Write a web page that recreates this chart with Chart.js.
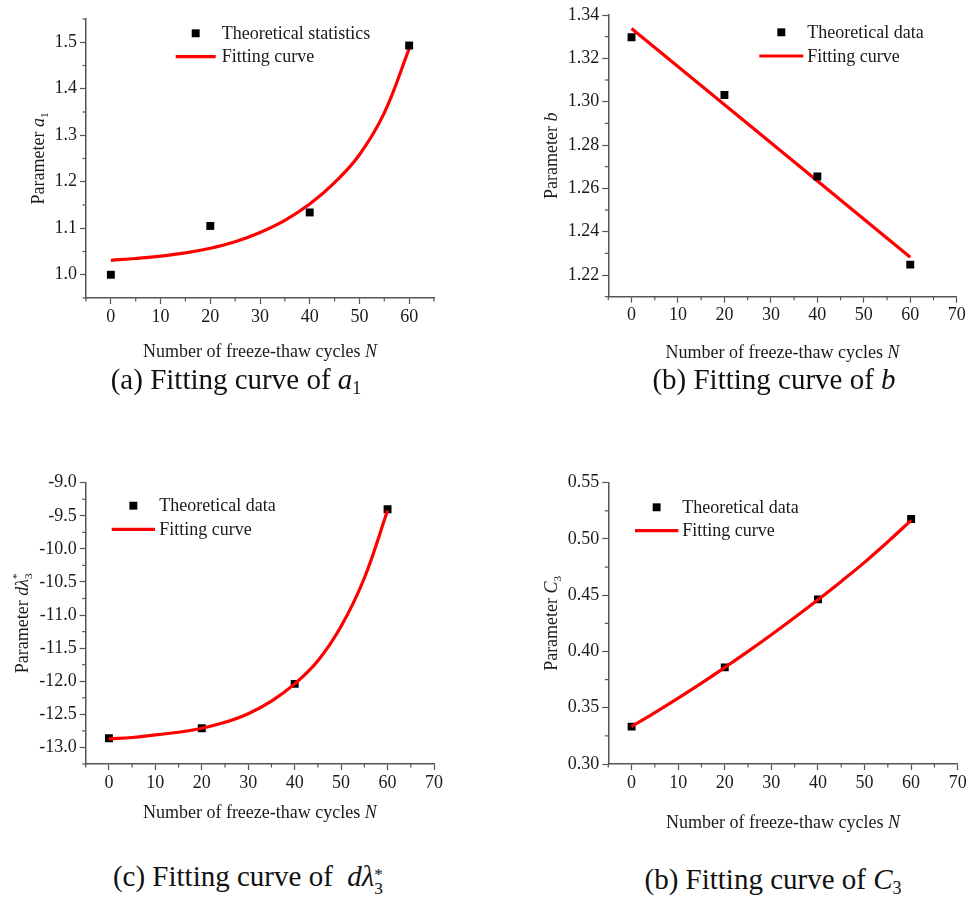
<!DOCTYPE html>
<html>
<head>
<meta charset="utf-8">
<title>Fitting curves against freeze-thaw cycles</title>
<script src="https://cdn.jsdelivr.net/npm/chart.js"></script>
<style>
  body { margin: 0; background: #fff; width: 978px; height: 897px; position: relative; overflow: hidden;
         font-family: "Liberation Serif", "Times New Roman", serif; }
  canvas { position: absolute; }
  .cap { position: absolute; font-size: 29px; color: #111; white-space: nowrap; transform: translate(-50%, -50%); line-height: 1; }
  .cap sub { font-size: 0.62em; vertical-align: -0.28em; line-height: 0; }
  .stack { display: inline-block; font-size: 0.6em; line-height: 0.8; vertical-align: -0.45em; }
  .stack span { display: block; }
</style>
</head>
<body>
<canvas id="chartA" width="489" height="372" style="left:0;top:0"></canvas>
<canvas id="chartB" width="489" height="372" style="left:489px;top:0"></canvas>
<canvas id="chartC" width="489" height="380" style="left:0;top:460px"></canvas>
<canvas id="chartD" width="489" height="380" style="left:489px;top:460px"></canvas>

<div class="cap" style="left:236px;top:379px">(a) Fitting curve of <i>a</i><sub>1</sub></div>
<div class="cap" style="left:774px;top:379px">(b) Fitting curve of <i>b</i></div>
<div class="cap" style="left:248px;top:879px">(c) Fitting curve of &nbsp;<i>dλ</i><span class="stack"><span>*</span><span>3</span></span></div>
<div class="cap" style="left:773px;top:879px">(b) Fitting curve of <i>C</i><sub>3</sub></div>

<script>
// freeze-thaw cycles of the theoretical values
const cycles = [0, 20, 40, 60];
const fitCycles = [0, 5, 10, 15, 20, 25, 30, 35, 40, 45, 50, 55, 60];

// (a) parameter a1
const a1Theory = [1.000, 1.105, 1.134, 1.493];
const a1Fit = [1.031, 1.035, 1.040, 1.047, 1.057, 1.071, 1.091, 1.117, 1.152, 1.198, 1.258, 1.348, 1.486];

// (b) parameter b, fitted by a straight line
const bTheory = [1.3297, 1.3031, 1.2655, 1.2248];
const bFitCycles = [0, 60];
const bFit = [1.3338, 1.2282];

// (c) parameter d lambda3*
const dlTheory = [-12.86, -12.71, -12.04, -9.40];
const dlFit = [-12.87, -12.85, -12.81, -12.77, -12.71, -12.62, -12.49, -12.30, -12.04, -11.69, -11.17, -10.44, -9.42];

// (d) parameter C3
const c3Theory = [0.3332, 0.3859, 0.4463, 0.5177];
const c3Fit = [0.3332, 0.3457, 0.3586, 0.3719, 0.3858, 0.4001, 0.4149, 0.4302, 0.4460, 0.4623, 0.4792, 0.4975, 0.5165];

// axis ranges: min, max, minor step, major step
const xRangeA = [-5, 65, 5, 10];
const xRange = [-5, 70, 5, 10];
const yRangeA = [0.95, 1.55, 0.05, 0.1];
const yRangeB = [1.21, 1.34, 0.01, 0.02];
const yRangeC = [-13.25, -9.0, 0.25, 0.5];
const yRangeD = [0.30, 0.55, 0.025, 0.05];

const FONT = '"Liberation Serif", "Times New Roman", serif';
const AXIS = '#555';
const INK = '#1a1a1a';

function isMajor(v, major) {
  return Math.abs(v / major - Math.round(v / major)) < 1e-6;
}

function toPoints(xs, ys) {
  return xs.map((x, i) => ({ x: x, y: ys[i] }));
}

// draws text made of plain / italic / sub / sup pieces, centred at (cx, cy)
function drawRich(ctx, segs, cx, cy, angle, size) {
  const small = size * 0.62;
  const fontOf = (s, it) => (it ? 'italic ' : '') + s + 'px ' + FONT;
  const widths = segs.map(sg => {
    ctx.font = fontOf(sg.sub ? small : size, sg.it);
    let w = ctx.measureText(sg.t).width;
    if (sg.over) w = Math.max(w, ctx.measureText(sg.over).width);
    return w;
  });
  const total = widths.reduce((a, b) => a + b, 0);
  ctx.save();
  ctx.translate(cx, cy);
  ctx.rotate(angle);
  ctx.fillStyle = INK;
  ctx.textBaseline = 'alphabetic';
  let x = -total / 2;
  const base = size * 0.33;
  segs.forEach((sg, i) => {
    if (sg.sub) {
      ctx.font = fontOf(small, sg.it);
      ctx.fillText(sg.t, x, base + size * 0.22);
      if (sg.over) ctx.fillText(sg.over, x, base - size * 0.45);
    } else {
      ctx.font = fontOf(size, sg.it);
      ctx.fillText(sg.t, x, base);
    }
    x += widths[i];
  });
  ctx.restore();
}

// minor ticks, axis titles with italics and the two-row legend
const framePlugin = {
  id: 'frame',
  afterDraw(chart, args, o) {
    const ctx = chart.ctx;
    const area = chart.chartArea;
    ctx.save();
    ctx.strokeStyle = AXIS;
    ctx.lineWidth = 1.2;
    ['x', 'y'].forEach(id => {
      const s = chart.scales[id];
      s.ticks.forEach(t => {
        if (isMajor(t.value, o.major[id])) return;
        const p = s.getPixelForValue(t.value);
        ctx.beginPath();
        if (id === 'x') { ctx.moveTo(p, area.bottom); ctx.lineTo(p, area.bottom + 3.5); }
        else { ctx.moveTo(area.left, p); ctx.lineTo(area.left - 3.5, p); }
        ctx.stroke();
      });
    });
    ctx.restore();

    drawRich(ctx, o.xTitle, (area.left + area.right) / 2, area.bottom + o.xTitleGap, 0, 18);
    drawRich(ctx, o.yTitle, area.left - o.yTitleGap, (area.top + area.bottom) / 2, -Math.PI / 2, 18);

    const L = o.legend;
    ctx.save();
    chart.data.datasets.forEach((ds, i) => {
      const y = L.y + i * L.rowGap;
      if (ds.showLine) {
        ctx.strokeStyle = ds.borderColor;
        ctx.lineWidth = ds.borderWidth;
        ctx.beginPath();
        ctx.moveTo(L.x, y);
        ctx.lineTo(L.x + L.lineLen, y);
        ctx.stroke();
      } else {
        const half = ds.pointRadius * Math.SQRT1_2;
        ctx.fillStyle = ds.backgroundColor;
        ctx.fillRect(L.x + L.lineLen / 2 - half, y - half, half * 2, half * 2);
      }
      ctx.fillStyle = INK;
      ctx.font = '18px ' + FONT;
      ctx.textBaseline = 'middle';
      ctx.fillText(ds.label, L.x + L.lineLen + L.textGap, y + 1);
    });
    ctx.restore();
  }
};

function axis(range, digits, fitSize, horizontal) {
  const [min, max, minor, major] = range;
  return {
    type: 'linear',
    min: min,
    max: max,
    afterFit(scale) {
      if (horizontal) scale.height = fitSize; else scale.width = fitSize;
    },
    border: { display: true, color: AXIS, width: 1.5 },
    grid: {
      display: true,
      drawOnChartArea: false,
      drawTicks: true,
      tickLength: 6,
      tickWidth: 1.2,
      tickColor: c => (c.tick && isMajor(c.tick.value, major)) ? AXIS : 'rgba(0,0,0,0)'
    },
    ticks: {
      stepSize: minor,
      autoSkip: false,
      maxRotation: 0,
      padding: horizontal ? 2 : 3,
      color: INK,
      font: { family: FONT, size: 18 },
      callback: v => isMajor(v, major) ? Number(v).toFixed(digits) : ''
    }
  };
}

function makeChart(id, theoryLabel, theory, fitXs, fit, lineOnTop, L) {
  const canvas = document.getElementById(id);
  return new Chart(canvas.getContext('2d'), {
    type: 'scatter',
    data: {
      datasets: [
        {
          label: theoryLabel,
          data: toPoints(cycles, theory),
          pointStyle: 'rect',
          pointRadius: 5.6,
          pointHoverRadius: 5.6,
          backgroundColor: '#000',
          borderColor: '#000',
          borderWidth: 0,
          showLine: false,
          order: lineOnTop ? 1 : 0
        },
        {
          label: 'Fitting curve',
          data: toPoints(fitXs, fit),
          showLine: true,
          borderColor: '#ff0000',
          backgroundColor: '#ff0000',
          borderWidth: 3.2,
          pointRadius: 0,
          tension: 0.4,
          order: lineOnTop ? 0 : 1
        }
      ]
    },
    options: {
      responsive: false,
      animation: false,
      events: [],
      layout: { padding: { left: 0, right: L.right, top: L.top, bottom: 0 } },
      scales: {
        x: axis(L.xRange, 0, canvas.height - L.bottom, true),
        y: axis(L.yRange, L.digits, L.left, false)
      },
      plugins: {
        legend: { display: false },
        tooltip: { enabled: false },
        frame: {
          major: { x: L.xRange[3], y: L.yRange[3] },
          xTitle: [{ t: 'Number of freeze-thaw cycles ' }, { t: 'N', it: true }],
          yTitle: L.yTitle,
          xTitleGap: L.xTitleGap,
          yTitleGap: L.yTitleGap,
          legend: L.legend
        }
      }
    },
    plugins: [framePlugin]
  });
}

makeChart('chartA', 'Theoretical statistics', a1Theory, fitCycles, a1Fit, false, {
  left: 86, right: 55, top: 19, bottom: 298, xRange: xRangeA, yRange: yRangeA, digits: 1,
  yTitle: [{ t: 'Parameter ' }, { t: 'a', it: true }, { t: '1', sub: true }],
  xTitleGap: 53, yTitleGap: 48,
  legend: { x: 175.7, y: 33.3, rowGap: 23.4, lineLen: 40, textGap: 6 }
});

makeChart('chartB', 'Theoretical data', bTheory, bFitCycles, bFit, false, {
  left: 119.3, right: 21.3, top: 15, bottom: 296.7, xRange: xRange, yRange: yRangeB, digits: 2,
  yTitle: [{ t: 'Parameter ' }, { t: 'b', it: true }],
  xTitleGap: 55, yTitleGap: 57,
  legend: { x: 270.3, y: 32.3, rowGap: 23.7, lineLen: 44, textGap: 4 }
});

makeChart('chartC', 'Theoretical data', dlTheory, fitCycles, dlFit, true, {
  left: 85.7, right: 55, top: 22.7, bottom: 304, xRange: xRange, yRange: yRangeC, digits: 1,
  yTitle: [{ t: 'Parameter ' }, { t: 'dλ', it: true }, { t: '3', sub: true, over: '*' }],
  xTitleGap: 48, yTitleGap: 64,
  legend: { x: 111.7, y: 45.7, rowGap: 23.6, lineLen: 43.3, textGap: 4.3 }
});

makeChart('chartD', 'Theoretical data', c3Theory, fitCycles, c3Fit, true, {
  left: 119.3, right: 20.3, top: 22.7, bottom: 304, xRange: xRange, yRange: yRangeD, digits: 2,
  yTitle: [{ t: 'Parameter ' }, { t: 'C', it: true }, { t: '3', sub: true }],
  xTitleGap: 58, yTitleGap: 57,
  legend: { x: 146, y: 47.3, rowGap: 23.4, lineLen: 43.3, textGap: 4 }
});
</script>
</body>
</html>
